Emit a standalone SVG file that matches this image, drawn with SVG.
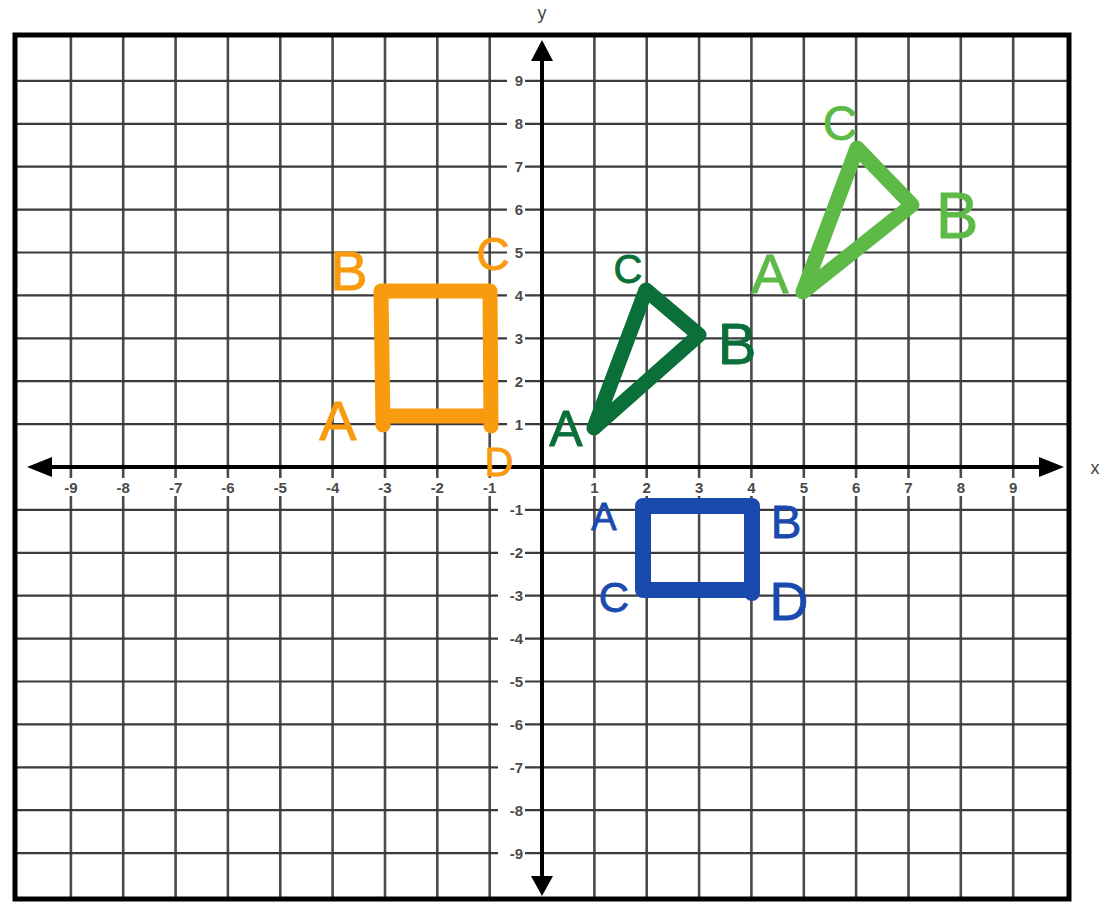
<svg xmlns="http://www.w3.org/2000/svg" width="1111" height="911" viewBox="0 0 1111 911">
<defs>
<style>
.gv{stroke:#4a4a4a;stroke-width:2.6;fill:none}
.gh{stroke:#3a3a3a;stroke-width:2.2;fill:none}
.axis{stroke:#000;stroke-width:4;fill:none}
.tick{font-family:"Liberation Sans",Arial,sans-serif;font-size:15px;font-weight:bold;fill:#4a4a4a}
.bg{fill:#fff}
.hw{font-family:"Liberation Sans",Arial,sans-serif;text-anchor:middle;stroke-width:0.8;stroke-linejoin:round}
.org{fill:#F89B0E;stroke:#F89B0E}
.dg{fill:#0B6F39;stroke:#0B6F39}
.lg{fill:#5EBA46;stroke:#5EBA46}
.bl{fill:#1B4AAE;stroke:#1B4AAE}
.shape{fill:none;stroke-linejoin:round;stroke-linecap:round}
</style>
</defs>
<rect width="1111" height="911" fill="#fff"/>
<g id="grid">
<g class="gv">
<line x1="70.9" y1="35" x2="70.9" y2="899"/><line x1="123.2" y1="35" x2="123.2" y2="899"/><line x1="175.6" y1="35" x2="175.6" y2="899"/><line x1="227.9" y1="35" x2="227.9" y2="899"/><line x1="280.3" y1="35" x2="280.3" y2="899"/><line x1="332.6" y1="35" x2="332.6" y2="899"/><line x1="385" y1="35" x2="385" y2="899"/><line x1="437.3" y1="35" x2="437.3" y2="899"/><line x1="489.7" y1="35" x2="489.7" y2="899"/>
<line x1="594.4" y1="35" x2="594.4" y2="899"/><line x1="646.7" y1="35" x2="646.7" y2="899"/><line x1="699.1" y1="35" x2="699.1" y2="899"/><line x1="751.4" y1="35" x2="751.4" y2="899"/><line x1="803.8" y1="35" x2="803.8" y2="899"/><line x1="856.1" y1="35" x2="856.1" y2="899"/><line x1="908.5" y1="35" x2="908.5" y2="899"/><line x1="960.8" y1="35" x2="960.8" y2="899"/><line x1="1013.2" y1="35" x2="1013.2" y2="899"/>
</g>
<g class="gh">
<line x1="15" y1="80.9" x2="1069" y2="80.9"/><line x1="15" y1="123.8" x2="1069" y2="123.8"/><line x1="15" y1="166.7" x2="1069" y2="166.7"/><line x1="15" y1="209.6" x2="1069" y2="209.6"/><line x1="15" y1="252.5" x2="1069" y2="252.5"/><line x1="15" y1="295.4" x2="1069" y2="295.4"/><line x1="15" y1="338.3" x2="1069" y2="338.3"/><line x1="15" y1="381.2" x2="1069" y2="381.2"/><line x1="15" y1="424.1" x2="1069" y2="424.1"/>
<line x1="15" y1="509.9" x2="1069" y2="509.9"/><line x1="15" y1="552.8" x2="1069" y2="552.8"/><line x1="15" y1="595.7" x2="1069" y2="595.7"/><line x1="15" y1="638.6" x2="1069" y2="638.6"/><line x1="15" y1="681.5" x2="1069" y2="681.5"/><line x1="15" y1="724.4" x2="1069" y2="724.4"/><line x1="15" y1="767.3" x2="1069" y2="767.3"/><line x1="15" y1="810.2" x2="1069" y2="810.2"/><line x1="15" y1="853.1" x2="1069" y2="853.1"/>
</g>
<rect x="15" y="35" width="1054" height="864" fill="none" stroke="#000" stroke-width="5"/>
</g>
<g id="axes">
<line class="axis" x1="36" y1="467" x2="1045" y2="467"/>
<polygon points="27,467 52,457 52,477" fill="#000"/>
<polygon points="1064,467 1039,457 1039,477" fill="#000"/>
<line class="axis" x1="542" y1="55" x2="542" y2="880"/>
<polygon points="542,40 531,61 553,61" fill="#000"/>
<polygon points="542,896 531,876 553,876" fill="#000"/>
<text x="1095" y="474" font-family="Liberation Sans,Arial,sans-serif" font-size="18" fill="#444" text-anchor="middle">x</text>
<text x="542" y="19" font-family="Liberation Sans,Arial,sans-serif" font-size="18" fill="#444" text-anchor="middle">y</text>
</g>
<g id="x-labels">
<g class="bg">
<rect x="59" y="478" width="24" height="18"/><rect x="111" y="478" width="24" height="18"/><rect x="164" y="478" width="24" height="18"/><rect x="216" y="478" width="24" height="18"/><rect x="268" y="478" width="24" height="18"/><rect x="321" y="478" width="24" height="18"/><rect x="373" y="478" width="24" height="18"/><rect x="425" y="478" width="24" height="18"/><rect x="478" y="478" width="24" height="18"/>
<rect x="587" y="478" width="15" height="18"/><rect x="639" y="478" width="15" height="18"/><rect x="692" y="478" width="15" height="18"/><rect x="744" y="478" width="15" height="18"/><rect x="796" y="478" width="15" height="18"/><rect x="849" y="478" width="15" height="18"/><rect x="901" y="478" width="15" height="18"/><rect x="953" y="478" width="15" height="18"/><rect x="1006" y="478" width="15" height="18"/>
</g>
<g class="tick" text-anchor="middle">
<text x="70.9" y="493">-9</text><text x="123.2" y="493">-8</text><text x="175.6" y="493">-7</text><text x="227.9" y="493">-6</text><text x="280.3" y="493">-5</text><text x="332.6" y="493">-4</text><text x="385" y="493">-3</text><text x="437.3" y="493">-2</text><text x="489.7" y="493">-1</text>
<text x="594.4" y="493">1</text><text x="646.7" y="493">2</text><text x="699.1" y="493">3</text><text x="751.4" y="493">4</text><text x="803.8" y="493">5</text><text x="856.1" y="493">6</text><text x="908.5" y="493">7</text><text x="960.8" y="493">8</text><text x="1013.2" y="493">9</text>
</g>
</g>
<g id="y-labels">
<g class="bg">
<rect x="507" y="72" width="18" height="18"/><rect x="507" y="115" width="18" height="18"/><rect x="507" y="158" width="18" height="18"/><rect x="507" y="201" width="18" height="18"/><rect x="507" y="244" width="18" height="18"/><rect x="507" y="286" width="18" height="18"/><rect x="507" y="329" width="18" height="18"/><rect x="507" y="372" width="18" height="18"/><rect x="507" y="415" width="18" height="18"/>
<rect x="498" y="501" width="27" height="18"/><rect x="498" y="544" width="27" height="18"/><rect x="498" y="587" width="27" height="18"/><rect x="498" y="630" width="27" height="18"/><rect x="498" y="672" width="27" height="18"/><rect x="498" y="715" width="27" height="18"/><rect x="498" y="758" width="27" height="18"/><rect x="498" y="801" width="27" height="18"/><rect x="498" y="844" width="27" height="18"/>
</g>
<g class="tick" text-anchor="end">
<text x="523" y="86.4">9</text><text x="523" y="129.3">8</text><text x="523" y="172.2">7</text><text x="523" y="215.1">6</text><text x="523" y="258">5</text><text x="523" y="300.9">4</text><text x="523" y="343.8">3</text><text x="523" y="386.7">2</text><text x="523" y="429.6">1</text>
<text x="523" y="515.4">-1</text><text x="523" y="558.3">-2</text><text x="523" y="601.2">-3</text><text x="523" y="644.1">-4</text><text x="523" y="687">-5</text><text x="523" y="729.9">-6</text><text x="523" y="772.8">-7</text><text x="523" y="815.7">-8</text><text x="523" y="858.6">-9</text>
</g>
</g>
<g id="orange-square">
<path class="shape" d="M383,425 L381,291 L490,291 L491,426 M383,416 L491,416" stroke="#F89B0E" stroke-width="15"/>
<g class="hw org">
<text x="349" y="290" font-size="56">B</text>
<text x="493" y="270" font-size="46">C</text>
<text x="338" y="440" font-size="56">A</text>
<text x="499" y="476" font-size="40">D</text>
</g>
</g>
<g id="dark-green-triangle">
<path class="shape" d="M594,428 L646,290 L699,335 Z" stroke="#0B6F39" stroke-width="15"/>
<g class="hw dg">
<text x="628" y="283" font-size="40">C</text>
<text x="737" y="364" font-size="58">B</text>
<text x="566" y="446" font-size="50">A</text>
</g>
</g>
<g id="light-green-triangle">
<path class="shape" d="M803,292 L857,148 L912,205 Z" stroke="#5EBA46" stroke-width="15"/>
<g class="hw lg">
<text x="840" y="140" font-size="48">C</text>
<text x="957" y="238" font-size="64">B</text>
<text x="770" y="293" font-size="56">A</text>
</g>
</g>
<g id="blue-rectangle">
<path class="shape" d="M643,590 L643,506 L752,506 L752,593 M643,590 L752,590" stroke="#1B4AAE" stroke-width="16"/>
<g class="hw bl">
<text x="604" y="530" font-size="38">A</text>
<text x="786" y="538" font-size="46">B</text>
<text x="614" y="612" font-size="42">C</text>
<text x="789" y="620" font-size="54">D</text>
</g>
</g>
</svg>
